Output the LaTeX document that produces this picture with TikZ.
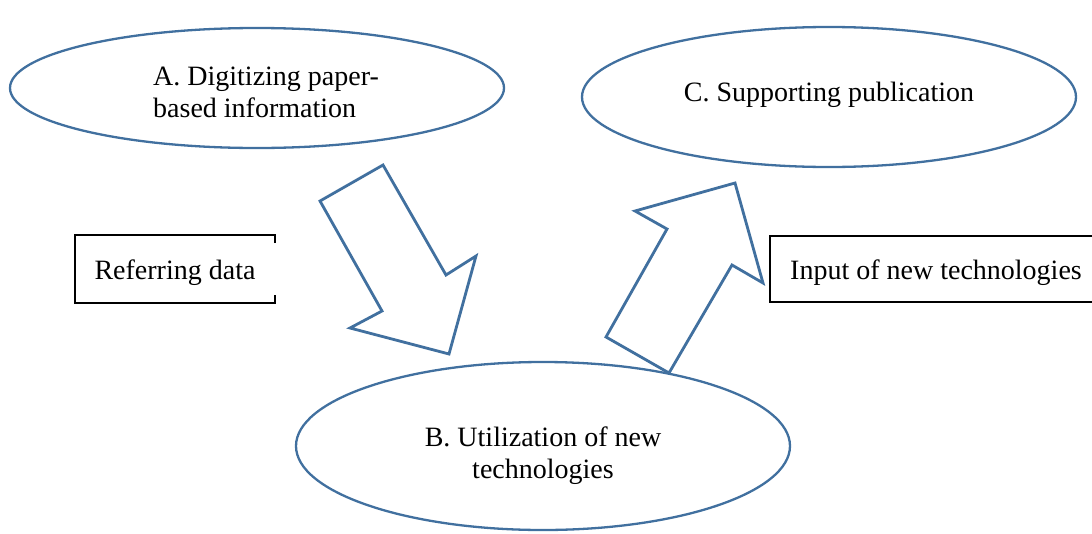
\documentclass[tikz,border=0pt]{standalone}
\usepackage{fontspec}
\setmainfont{Liberation Serif}
\usetikzlibrary{shapes.geometric}
\definecolor{edgeblue}{HTML}{41709F}
\tikzset{
  oval/.style={draw=edgeblue, line width=2.3pt, fill=white, ellipse},
  blockarrow/.style={draw=edgeblue, line width=2.8pt, fill=white, line join=miter},
  boxline/.style={draw=black, line width=1.4pt},
  lbl/.style={font=\fontsize{28}{32}\selectfont, inner sep=0pt},
}
\begin{document}
\begin{tikzpicture}[x=1pt,y=-1pt]
\useasboundingbox (0,0) rectangle (1092,533);
% ellipses
\draw[oval] (257,88) ellipse [x radius=247, y radius=60];
\draw[oval] (829,97) ellipse [x radius=247, y radius=70];
\draw[oval] (543,446) ellipse [x radius=247, y radius=84];
\node[lbl, align=left, anchor=west] (A) at (153,92) {A. Digitizing paper-\\based information};
\node[lbl] (C) at (829,95) {C. Supporting publication};
\node[lbl, align=center] (B) at (543,456) {B. Utilization of new\\technologies};
% block arrows
\draw[blockarrow] (320,201) -- (383,165) -- (446,275) -- (476,256) -- (449,354) -- (350,328) -- (382,311) -- cycle;
\draw[blockarrow] (606,337) -- (667,229) -- (635,211) -- (735,183) -- (763,283) -- (732,265) -- (669,373) -- cycle;
% side boxes
\node[lbl] (ref) at (175,273) {Referring data};
\draw[boxline] (275,243) -- (275,235) -- (75,235) -- (75,303) -- (275,303) -- (275,295);
\node[lbl] (inp) at (936,273) {Input of new technologies};
\draw[boxline] (1095,236) -- (770,236) -- (770,302) -- (1095,302);
\end{tikzpicture}
\end{document}
